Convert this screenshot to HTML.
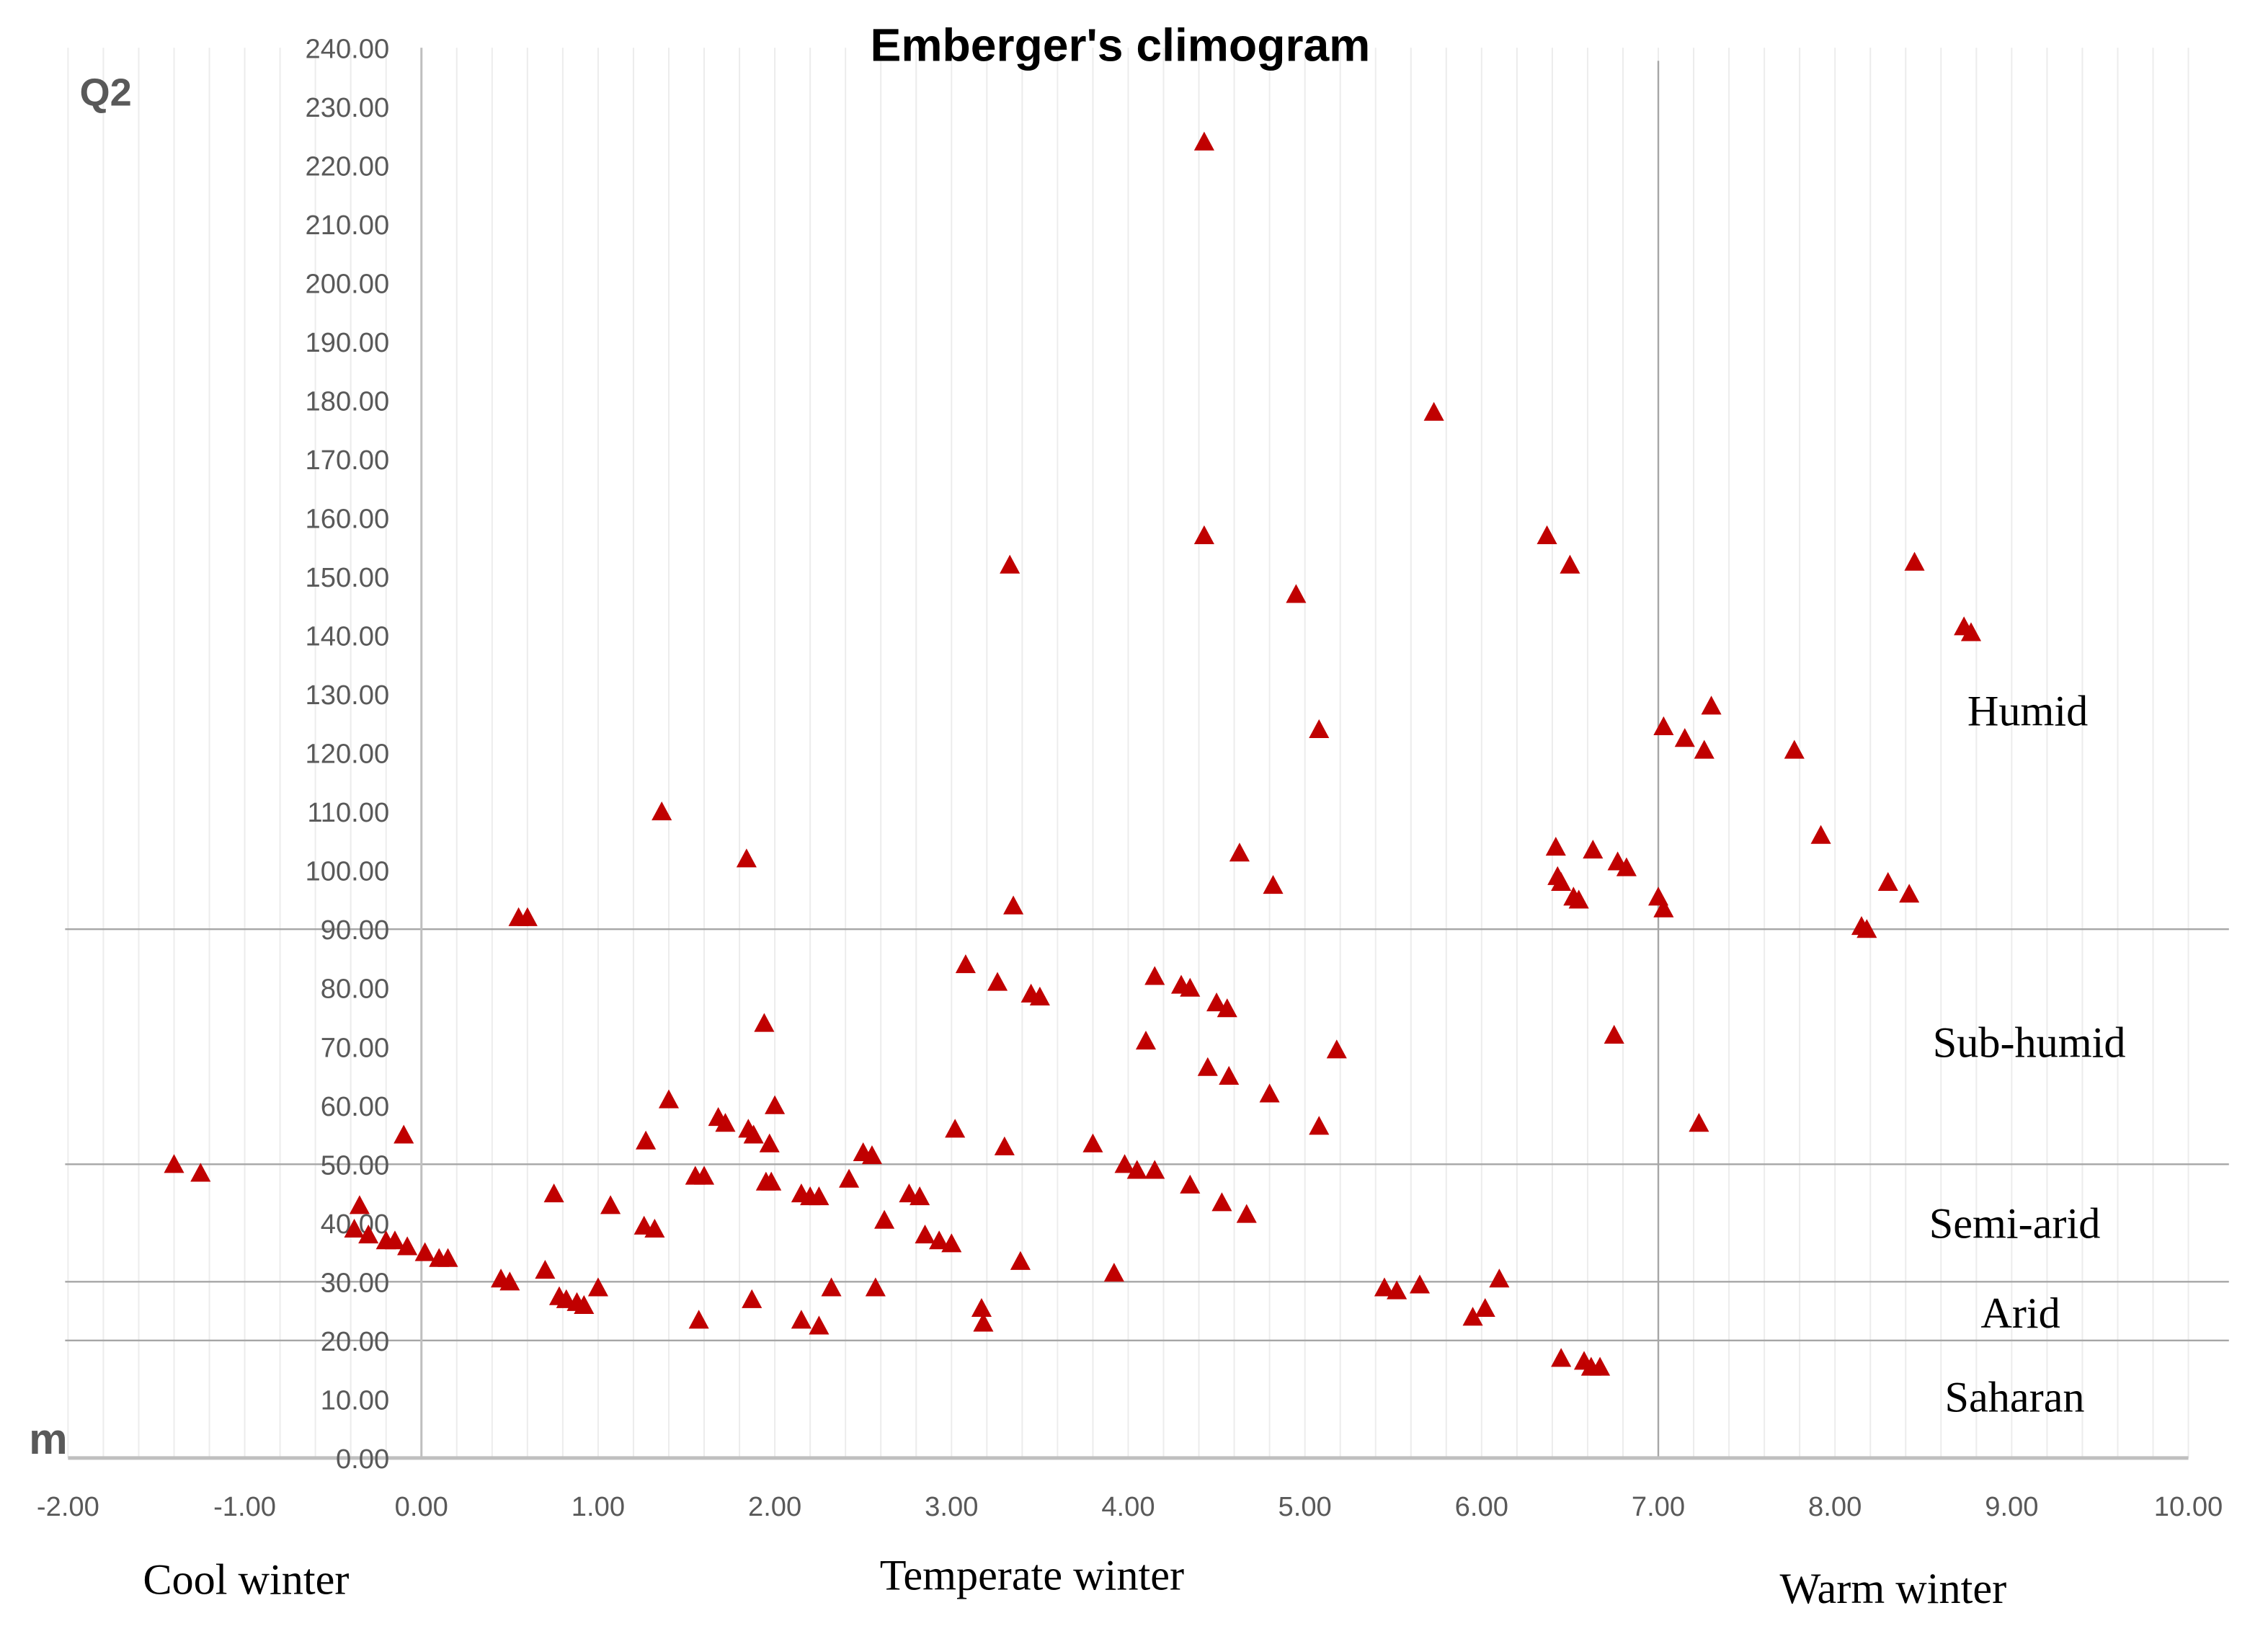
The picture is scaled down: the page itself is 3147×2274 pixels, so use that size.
<!DOCTYPE html>
<html><head><meta charset="utf-8"><style>
html,body{margin:0;padding:0;background:#fff;}
svg{display:block;}
</style></head><body>
<svg id="chart" width="3147" height="2274" viewBox="0 0 1567 1132" preserveAspectRatio="none" xmlns="http://www.w3.org/2000/svg">
<g id="grid"></g>
<g id="zones"></g>
<g id="axes"></g>
<g id="marks"></g>
<text x="774" y="42" text-anchor="middle" font-family="Liberation Sans, sans-serif" font-weight="bold" font-size="32" fill="#000">Emberger's climogram</text>
<text x="55" y="73" font-family="Liberation Sans, sans-serif" font-weight="bold" font-size="27" fill="#595959">Q2</text>
<text x="20" y="1004" font-family="Liberation Sans, sans-serif" font-weight="bold" font-size="30" fill="#595959">m</text>
<g font-family="Liberation Serif, serif" font-size="30" fill="#000" text-anchor="middle">
<text x="1401" y="501">Humid</text>
<text x="1402" y="730">Sub-humid</text>
<text x="1392" y="855">Semi-arid</text>
<text x="1396" y="917">Arid</text>
<text x="1392" y="975">Saharan</text>
<text x="170" y="1101">Cool winter</text>
<text x="713" y="1098">Temperate winter</text>
<text x="1308" y="1107">Warm winter</text>
</g>
</svg>
<script>
const xTicks = [-2,-1,0,1,2,3,4,5,6,7,8,9,10];
const yTicks = [0,10,20,30,40,50,60,70,80,90,100,110,120,130,140,150,160,170,180,190,200,210,220,230,240];
const mValues = [-1.4,-1.25,-0.35,-0.38,-0.3,-0.2,-0.15,-0.1,-0.08,0.02,0.1,0.15,0.45,0.5,0.55,0.6,0.7,0.75,0.78,0.82,0.88,0.92,1.0,1.07,1.26,1.32,1.36,1.4,1.27,1.55,1.6,1.57,1.68,1.72,1.85,1.88,1.84,1.87,1.94,1.95,1.98,1.97,2.0,2.15,2.2,2.25,2.15,2.25,2.32,2.42,2.5,2.55,2.57,2.62,2.76,2.82,2.85,2.93,3.0,3.02,3.08,3.17,3.18,3.26,3.3,3.33,3.35,3.39,3.45,3.5,3.8,3.92,3.98,4.05,4.1,4.15,4.15,4.3,4.35,4.35,4.43,4.43,4.45,4.5,4.53,4.56,4.57,4.63,4.67,4.82,4.8,4.95,5.08,5.08,5.18,5.45,5.52,5.65,5.73,5.95,6.02,6.1,6.37,6.42,6.43,6.45,6.45,6.5,6.52,6.55,6.58,6.63,6.62,6.67,6.75,6.77,6.82,7.0,7.03,7.03,7.15,7.23,7.26,7.3,7.77,7.92,8.15,8.18,8.3,8.42,8.45,8.73,8.77];
const q2Values = [50,48.5,43,39,38,37,37,55,36,35,34,34,30.5,30,92,92,32,45,27.5,27,26.5,26,29,43,39.5,39,110,61,54,48,48,23.5,58,57,56,55,102,27,74,47,47,53.5,60,45,44.5,44.5,23.5,22.5,29,47.5,52,51.5,29,40.5,45,44.5,38,37,36.5,56,84,25.5,23,81,53,152,94,33.5,79,78.5,53.5,31.5,50,49,71,82,49,80.5,80,46.5,224,157,66.5,77.5,43.5,76.5,65,103,41.5,97.5,62,147,124,56.5,69.5,29,28.5,29.5,178,24,25.5,30.5,157,104,99,98,17,152,95.5,95,16.5,103.5,15.5,15.5,72,101.5,100.5,95.5,93.5,124.5,122.5,57,120.5,128,120.5,106,90.5,90,98,96,152.5,141.5,140.5];
const zoneBounds = [90,50,30,20];
const NS='http://www.w3.org/2000/svg';
const X0=47,X1=1512,Y0=1007,Y1=33;
function sx(v){return X0+(v-(-2))*(X1-X0)/12;}
function sy(v){return Y0-v*(Y0-Y1)/240;}
function mk(tag,attrs,parent){const e=document.createElementNS(NS,tag);for(const k in attrs)e.setAttribute(k,attrs[k]);parent.appendChild(e);return e;}
const grid=document.getElementById('grid'),axes=document.getElementById('axes'),marks=document.getElementById('marks'),zones=document.getElementById('zones');
for(let i=0;i<=60;i++){const v=-2+i*0.2;
 const l=mk('line',{x1:sx(v),x2:sx(v),y1:Y1,y2:Y0,stroke:'#ececec','stroke-width':1},grid);
 
 }
zoneBounds.forEach(b=>{const l=mk('line',{x1:45,x2:1540,y1:sy(b),y2:sy(b),stroke:'#a6a6a6','stroke-width':1.2},zones);
 
 });
const wl=mk('line',{x1:sx(7),x2:sx(7),y1:42,y2:Y0,stroke:'#a6a6a6','stroke-width':1.2},zones);


const ya=mk('line',{x1:sx(0),x2:sx(0),y1:Y1,y2:Y0,stroke:'#bfbfbf','stroke-width':1.5},axes);


const xa=mk('line',{x1:X0,x2:X1,y1:Y0,y2:Y0,stroke:'#bfbfbf','stroke-width':2.5},axes);


yTicks.forEach(t=>{const e=mk('text',{x:269,y:sy(t)+7,'text-anchor':'end','font-family':'Liberation Sans, sans-serif','font-size':19,fill:'#595959'},axes);
 e.textContent=t.toFixed(2);
 
 });
xTicks.forEach(t=>{const e=mk('text',{x:sx(t),y:1047,'text-anchor':'middle','font-family':'Liberation Sans, sans-serif','font-size':19,fill:'#595959'},axes);
 e.textContent=t.toFixed(2);
 
 });
mValues.forEach((m,i)=>{const cx=sx(m),cy=sy(q2Values[i]);
 const p=mk('polygon',{points:`${cx},${cy-7} ${cx+7},${cy+6} ${cx-7},${cy+6}`,fill:'#c00000'},marks);
 
 });
</script>
</body></html>
